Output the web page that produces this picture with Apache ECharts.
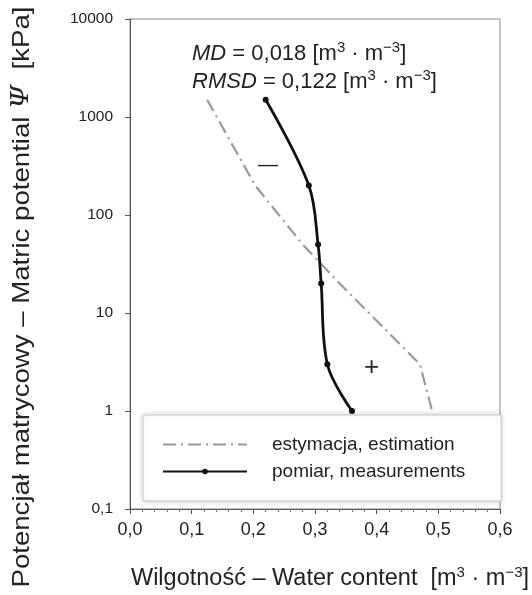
<!DOCTYPE html>
<html>
<head>
<meta charset="utf-8">
<script src="https://cdn.jsdelivr.net/npm/echarts@6/dist/echarts.min.js"></script>
<style>
  html, body { margin: 0; padding: 0; background: #fff; }
  #chart { width: 532px; height: 595px; }
</style>
</head>
<body>
<div id="chart"></div>
<script>
// potencjał matrycowy [kPa]
const potential = [1500, 200, 50, 20, 3, 1];
// wilgotność [m3 m-3]
const measured = [0.22, 0.29, 0.305, 0.31, 0.32, 0.36];
const estimated = [0.125, 0.203, 0.28, 0.34, 0.47, 0.49];
const xTicks = [0, 0.1, 0.2, 0.3, 0.4, 0.5, 0.6];
const yTicks = [0.1, 1, 10, 100, 1000, 10000];

const font = "Liberation Sans, Arial, sans-serif";
const comma = (v) => String(v).replace(".", ",");
const supStyle = (size) => ({ fontSize: size, verticalAlign: "top", padding: [0, 0, Math.round(size * 0.8), 0] });

const chart = echarts.init(document.getElementById("chart"));

const option = {
  backgroundColor: "#fff",
  animation: false,
  textStyle: { fontFamily: font },
  grid: {
    left: 130,
    right: 32,
    top: 19,
    bottom: 86,
    outerBoundsMode: "none",
    show: true,
    borderColor: "#8a8a8a",
    borderWidth: 1,
  },
  legend: {
    orient: "vertical",
    left: 143,
    top: 415,
    padding: [20, 36, 20, 19],
    itemWidth: 84,
    itemHeight: 7,
    itemGap: 8,
    backgroundColor: "#fff",
    borderColor: "#c8c8c8",
    borderWidth: 1,
    shadowColor: "rgba(0,0,0,0.18)",
    shadowBlur: 6,
    textStyle: { fontSize: 19, color: "#222", fontFamily: font, padding: [0, 0, 0, 20] },
    data: [
      { name: "estymacja, estimation", itemStyle: { opacity: 0 } },
      { name: "pomiar, measurements" },
    ],
  },
  xAxis: {
    type: "value",
    min: xTicks[0],
    max: xTicks[xTicks.length - 1],
    interval: 0.1,
    name: "Wilgotność – Water content  [m{sup|3} · m{sup|−3}]",
    nameLocation: "middle",
    nameGap: 56,
    nameTextStyle: {
      fontSize: 23.5,
      color: "#222",
      fontFamily: font,
      padding: [0, 0, 0, 30],
      rich: { sup: supStyle(15) },
    },
    axisLine: { lineStyle: { color: "#555", width: 1 } },
    axisTick: { show: true, length: 5, lineStyle: { color: "#555" } },
    minorTick: { show: true, splitNumber: 5, length: 3, lineStyle: { color: "#777" } },
    splitLine: { show: false },
    axisLabel: {
      fontSize: 18,
      color: "#222",
      margin: 12,
      formatter: (v) => v.toFixed(1).replace(".", ","),
    },
  },
  yAxis: {
    type: "log",
    logBase: 10,
    min: yTicks[0],
    max: yTicks[yTicks.length - 1],
    axisLine: { show: true, lineStyle: { color: "#555", width: 1 } },
    axisTick: { show: true, length: 5, lineStyle: { color: "#555" } },
    splitLine: { show: false },
    axisLabel: {
      fontSize: 15.5,
      color: "#222",
      margin: 17,
      formatter: (v) => comma(+v.toPrecision(6)),
    },
  },
  series: [
    {
      name: "estymacja, estimation",
      type: "line",
      symbol: "none",
      color: "#9a9a9a",
      lineStyle: { color: "#9a9a9a", width: 2.2, type: [13, 5, 2, 5] },
      data: estimated.map((x, i) => [x, potential[i]]),
      z: 2,
    },
    {
      name: "pomiar, measurements",
      type: "line",
      smooth: 0.35,
      symbol: "circle",
      symbolSize: 6,
      color: "#111",
      itemStyle: { color: "#111" },
      lineStyle: { color: "#111", width: 2.8 },
      data: measured.map((x, i) => [x, potential[i]]),
      z: 3,
    },
  ],
  graphic: [
    {
      // y axis title, stretched along its length like in the source figure
      type: "text",
      x: 22,
      y: 297,
      rotation: Math.PI / 2,
      scaleX: 1.15,
      style: {
        text: "Potencjał matrycowy – Matric potential {it|Ψ}  [kPa]",
        fontSize: 24,
        fontFamily: font,
        fill: "#222",
        align: "center",
        verticalAlign: "middle",
        rich: { it: { fontStyle: "italic", fontSize: 24, fontFamily: "DejaVu Serif" } },
      },
    },
    {
      type: "text",
      left: 192,
      top: 40,
      style: {
        text: "{i|MD} = 0,018 [m{s|3} · m{s|−3}]",
        fontSize: 22,
        fontFamily: font,
        fill: "#222",
        rich: { i: { fontStyle: "italic", fontSize: 22 }, s: supStyle(15) },
      },
    },
    {
      type: "text",
      left: 192,
      top: 68,
      style: {
        text: "{i|RMSD} = 0,122 [m{s|3} · m{s|−3}]",
        fontSize: 22,
        fontFamily: font,
        fill: "#222",
        rich: { i: { fontStyle: "italic", fontSize: 22 }, s: supStyle(15) },
      },
    },
    {
      type: "text",
      left: 258,
      top: 155,
      style: { text: "—", fontSize: 20, fontFamily: font, fill: "#222" },
    },
    {
      type: "text",
      left: 364,
      top: 355,
      style: { text: "+", fontSize: 26, fontFamily: font, fill: "#222" },
    },
  ],
};

chart.setOption(option);
</script>
</body>
</html>
